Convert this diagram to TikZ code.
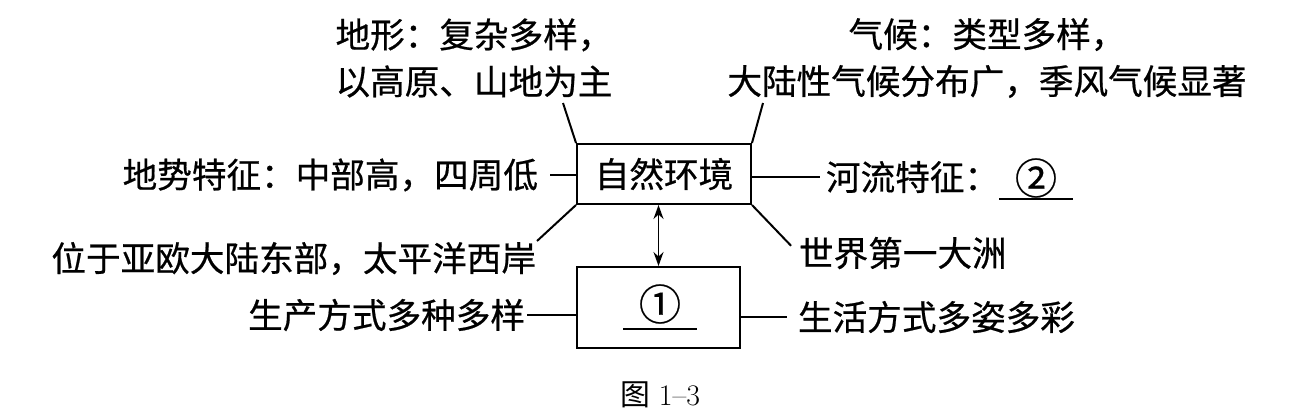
\documentclass[tikz,border=0pt]{standalone}
\usepackage{fontspec}
\newfontfamily\cjk[FakeBold=0.6]{Noto Sans CJK SC}
\newfontfamily\cjklight{Noto Sans CJK SC}
\usetikzlibrary{arrows.meta}

\begin{document}
\begin{tikzpicture}[
    x=0.02cm, y=-0.02cm,
    line width=0.04cm,
    box/.style={draw, minimum width=3.48cm, minimum height=1.2cm, inner sep=0pt,
                font=\cjk\fontsize{19.7pt}{26.7pt}\selectfont},
    lbl/.style={inner sep=0pt, align=center, font=\cjk\fontsize{19.7pt}{26.7pt}\selectfont},
    num/.style={inner xsep=0pt, minimum width=1.44cm, font=\cjk\fontsize{24pt}{26.7pt}\selectfont}
  ]
  \useasboundingbox (0,0) rectangle (1297,417);

  % 两个方框
  \node[box] (nat) at (664,174) {自然环境};
  \node[box, minimum width=3.26cm, minimum height=1.62cm] (one) at (658.5,307.5) {};
  \node[num, inner ysep=0.08cm] (no1) at (660,304) {①};
  \draw (no1.south west) -- (no1.south east);

  % 四周的说明文字
  \node[lbl] (shape) at (474,58) {地形：复杂多样，\\以高原、山地为主};
  \node[lbl] (clim) at (987,58) {气候：类型多样，\\大陆性气候分布广，季风气候显著};
  \node[lbl, anchor=east] (terrain) at (539,175) {地势特征：中部高，四周低};
  \node[lbl, anchor=west] (river) at (825,177) {河流特征：};
  \node[num, inner ysep=0pt] (no2) at (1036,178) {②};
  \draw (no2.south west) -- (no2.south east);
  \node[lbl, anchor=north east] (loc) at (537,241) {位于亚欧大陆东部，太平洋西岸};
  \node[lbl, anchor=west] (cont) at (798,253) {世界第一大洲};
  \node[lbl, anchor=east] (prod) at (526,315) {生产方式多种多样};
  \node[lbl, anchor=west] (life) at (797,317) {生活方式多姿多彩};
  \coordinate (tl) at (563,103);
  \coordinate (tr) at (763,103);

  % 连线
  \draw (nat.north west) -- (tl);
  \draw (nat.north east) -- (tr);
  \draw[shorten >=0.22cm] (nat.west |- terrain.east) -- (terrain.east);
  \draw[shorten >=0.1cm] (nat.east |- river.west) -- (river.west);
  \draw (nat.south west) -- (loc.north east);
  \draw[shorten >=0.2cm] (nat.south east) -- (cont.west);
  \draw[shorten >=0.02cm] (one.west |- prod.east) -- (prod.east);
  \draw[shorten >=0.2cm] (one.east |- life.west) -- (life.west);

  % 双向箭头
  \draw[{Stealth[length=0.28cm,width=0.2cm]}-{Stealth[length=0.28cm,width=0.2cm]}, line width=0.035cm]
    (one.north) -- (one.north |- nat.south);

  \node[inner sep=0pt, font=\fontsize{17pt}{20pt}\selectfont] (cap) at (660,395) {{\cjklight 图}\ 1--3};
\end{tikzpicture}
\end{document}
